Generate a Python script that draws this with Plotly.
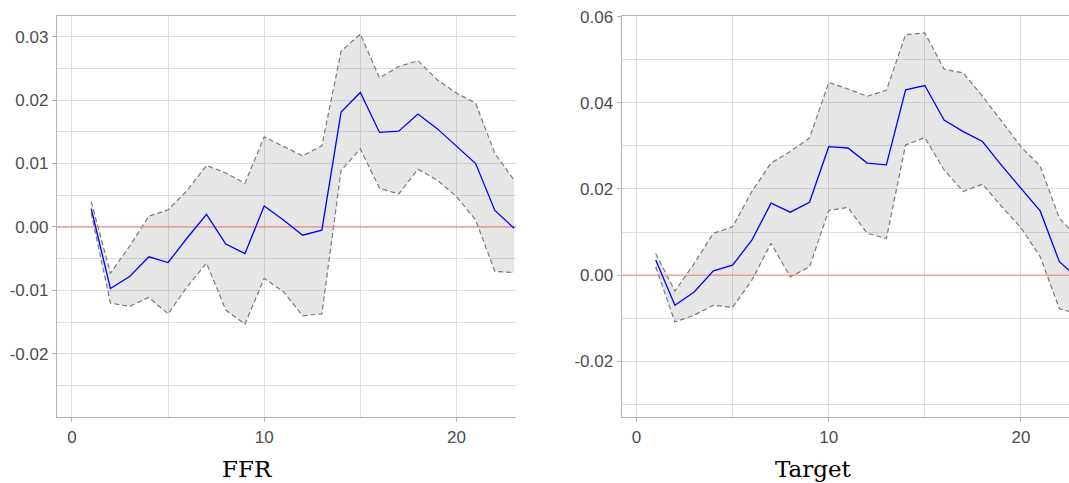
import plotly.graph_objects as go

# ---- data ----
h_ffr = list(range(1, 24))
ffr_mid = [0.0029, -0.0097, -0.0078, -0.0047, -0.0056, -0.0017, 0.0020, -0.0027, -0.0042, 0.0033,
           0.0011, -0.0013, -0.0005, 0.0181, 0.0212, 0.0149, 0.0151, 0.0178, 0.0155, 0.0128,
           0.0100, 0.0026, -0.0002]
ffr_hi = [0.0040, -0.0073, -0.0030, 0.0017, 0.0027, 0.0058, 0.0097, 0.0085, 0.0069, 0.0142,
          0.0127, 0.0112, 0.0128, 0.0277, 0.0304, 0.0235, 0.0253, 0.0262, 0.0232, 0.0211,
          0.0195, 0.0116, 0.0074]
ffr_lo = [0.0022, -0.0120, -0.0125, -0.0111, -0.0137, -0.0094, -0.0057, -0.0131, -0.0153, -0.0081,
          -0.0102, -0.0140, -0.0137, 0.0089, 0.0123, 0.0061, 0.0052, 0.0091, 0.0074, 0.0048,
          0.0011, -0.0070, -0.0072]

h_tgt = list(range(1, 24))
tgt_mid = [0.0035, -0.0070, -0.0039, 0.0010, 0.0023, 0.0081, 0.0167, 0.0146, 0.0169, 0.0298,
           0.0295, 0.0260, 0.0256, 0.0430, 0.0440, 0.0360, 0.0333, 0.0310, 0.0254, 0.0202,
           0.0149, 0.0031, -0.0009]
tgt_hi = [0.0050, -0.0037, 0.0027, 0.0097, 0.0112, 0.0194, 0.0260, 0.0287, 0.0318, 0.0447,
          0.0432, 0.0415, 0.0429, 0.0558, 0.0562, 0.0478, 0.0469, 0.0415, 0.0357, 0.0298,
          0.0253, 0.0132, 0.0085]
tgt_lo = [0.0019, -0.0109, -0.0093, -0.0070, -0.0075, -0.0012, 0.0074, -0.0004, 0.0019, 0.0150,
          0.0157, 0.0097, 0.0085, 0.0302, 0.0319, 0.0244, 0.0194, 0.0211, 0.0159, 0.0110,
          0.0043, -0.0078, -0.0090]

x_ticks = [0, 10, 20]
x_ticktext = ["0", "10", "20"]
ffr_yticks = [-0.02, -0.01, 0.0, 0.01, 0.02, 0.03]
ffr_yticktext = ["-0.02", "-0.01", "0.00", "0.01", "0.02", "0.03"]
tgt_yticks = [-0.02, 0.0, 0.02, 0.04, 0.06]
tgt_yticktext = ["-0.02", "0.00", "0.02", "0.04", "0.06"]
titles = ["FFR", "Target"]

# ---- styles ----
BAND_FILL = "rgba(128,128,128,0.2)"
DASH_COLOR = "#7a7a7a"
GRID = "#dedede"
BORDER = "#b3b3b3"
TICKFONT = dict(family="Liberation Sans, Arial, sans-serif", size=17, color="#4d4d4d")

fig = go.Figure()


def add_panel(xs, mid, lo, hi, xa, ya, xrange):
    fig.add_trace(go.Scatter(x=xs, y=lo, mode="lines",
                             line=dict(color=DASH_COLOR, width=1.2, dash="5px,3px"),
                             xaxis=xa, yaxis=ya, showlegend=False))
    fig.add_trace(go.Scatter(x=xs, y=hi, mode="lines", fill="tonexty", fillcolor=BAND_FILL,
                             line=dict(color=DASH_COLOR, width=1.2, dash="5px,3px"),
                             xaxis=xa, yaxis=ya, showlegend=False))
    # zero reference line
    fig.add_trace(go.Scatter(x=[xrange[0], xrange[1]], y=[0, 0], mode="lines",
                             line=dict(color="rgba(240,128,128,0.75)", width=1.4),
                             xaxis=xa, yaxis=ya, showlegend=False, hoverinfo="skip"))
    fig.add_trace(go.Scatter(x=xs, y=mid, mode="lines",
                             line=dict(color="#0000ff", width=1.3),
                             xaxis=xa, yaxis=ya, showlegend=False))


ffr_xrange = [-0.78, 23.1]
tgt_xrange = [-0.77, 22.5]
add_panel(h_ffr, ffr_mid, ffr_lo, ffr_hi, "x", "y", ffr_xrange)
add_panel(h_tgt, tgt_mid, tgt_lo, tgt_hi, "x2", "y2", tgt_xrange)

W, H = 1069, 483
y_dom = [1 - 417.3 / H, 1 - 15.7 / H]

common_x = dict(tickvals=x_ticks, ticktext=x_ticktext, showgrid=True, gridcolor=GRID, gridwidth=1.2,
                zeroline=False, showline=True, linecolor=BORDER, linewidth=1.3, mirror=True,
                ticks="outside", ticklen=4, tickcolor=BORDER, tickwidth=1.2, tickfont=TICKFONT,
                automargin=False,
                minor=dict(tickmode="linear", tick0=0, dtick=5, showgrid=True, gridcolor=GRID,
                           gridwidth=1.2, ticks=""))
common_y = dict(showgrid=True, gridcolor=GRID, gridwidth=1.2, zeroline=False, showline=True,
                linecolor=BORDER, linewidth=1.3, ticks="outside", ticklen=4, tickcolor=BORDER,
                tickwidth=1.2, tickfont=TICKFONT, automargin=False)

fig.update_layout(
    width=W, height=H,
    margin=dict(l=0, r=0, t=0, b=0, autoexpand=False),
    paper_bgcolor="white", plot_bgcolor="white",
    xaxis=dict(domain=[57 / W, 516 / W], range=ffr_xrange, anchor="y", **common_x),
    yaxis=dict(domain=y_dom, range=[-0.0300, 0.0333], anchor="x",
               tickvals=ffr_yticks, ticktext=ffr_yticktext,
               minor=dict(tickmode="linear", tick0=0, dtick=0.005, showgrid=True, gridcolor=GRID,
                          gridwidth=1.2, ticks=""),
               **common_y),
    xaxis2=dict(domain=[621.7 / W, 1.0], range=tgt_xrange, anchor="y2", **common_x),
    yaxis2=dict(domain=y_dom, range=[-0.0330, 0.0602], anchor="x2",
                tickvals=tgt_yticks, ticktext=tgt_yticktext,
                minor=dict(tickmode="linear", tick0=0, dtick=0.01, showgrid=True, gridcolor=GRID,
                           gridwidth=1.2, ticks=""),
                **common_y),
    annotations=[
        dict(text=titles[0], x=247 / W, y=1 - 468.5 / H, xref="paper", yref="paper",
             showarrow=False, xanchor="center", yanchor="middle",
             font=dict(family="DejaVu Serif, serif", size=23, color="black")),
        dict(text=titles[1], x=813 / W, y=1 - 468.5 / H, xref="paper", yref="paper",
             showarrow=False, xanchor="center", yanchor="middle",
             font=dict(family="DejaVu Serif, serif", size=23, color="black")),
    ],
)

fig.write_html("out.html", config={"displayModeBar": False},
               post_script="document.body.style.margin='0';document.body.style.overflow='hidden';")
